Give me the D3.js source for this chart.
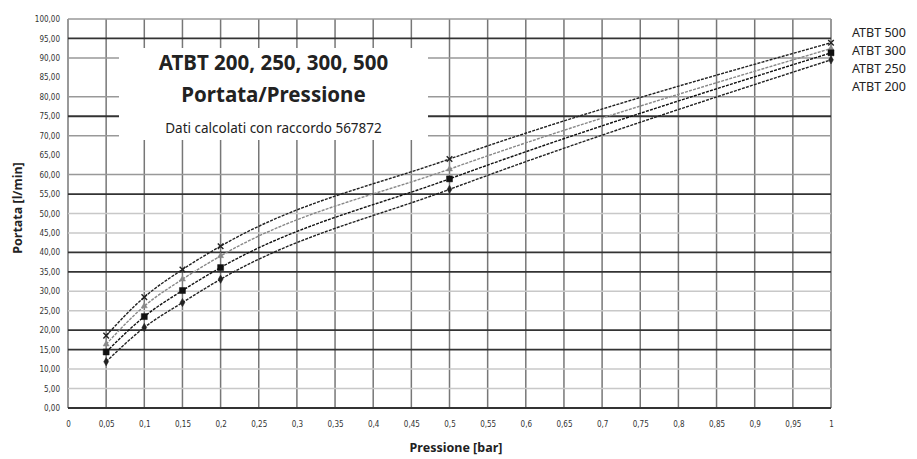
<!DOCTYPE html>
<html><head><meta charset="utf-8">
<script src="https://cdn.jsdelivr.net/npm/d3@7"></script>
<style>
html,body{margin:0;padding:0;background:#fff;}
svg{display:block;font-family:"Noto Sans","Open Sans",sans-serif;}
</style></head>
<body><svg id="c" width="917" height="459"></svg>
<script>
const pressure = [0.05, 0.1, 0.15, 0.2, 0.5, 1.0];
const seriesNames = ["ATBT 500", "ATBT 300", "ATBT 250", "ATBT 200"];
const atbt500 = [18.6, 28.5, 35.6, 41.6, 64.0, 93.9];
const atbt300 = [16.4, 26.2, 33.1, 39.1, 61.4, 92.4];
const atbt250 = [14.4, 23.5, 30.2, 36.1, 58.9, 91.3];
const atbt200 = [11.9, 20.7, 27.1, 33.1, 56.2, 89.5];
const xTicks = d3.range(0, 21).map(i => i * 0.05);
const yTicks = d3.range(0, 21).map(i => i * 5);
const titleLines = ["ATBT 200, 250, 300, 500", "Portata/Pressione"];
const subtitle = "Dati calcolati con raccordo 567872";
const xTitle = "Pressione [bar]";
const yTitle = "Portata [l/min]";

const svg = d3.select("#c");
const L = 68, R = 831, T = 19, B = 408;
const x = d3.scaleLinear().domain([0, 1]).range([L, R]);
const y = d3.scaleLinear().domain([0, 100]).range([B, T]);

const dark = new Set([95, 75, 55, 40, 35, 20, 15, 0]);
const light = new Set([50, 45, 30, 25, 10, 5]);
const none = new Set([85, 65]);

// vertical gridlines
const gx = svg.append("g");
gx.selectAll("line").data(xTicks).join("line")
  .attr("x1", d => x(d)).attr("x2", d => x(d))
  .attr("y1", T).attr("y2", B)
  .attr("stroke", "#777").attr("stroke-width", 1.5);

// horizontal gridlines
const gy = svg.append("g");
gy.selectAll("line").data(yTicks.filter(v => !none.has(Math.round(v)))).join("line")
  .attr("x1", L).attr("x2", R)
  .attr("y1", d => y(d)).attr("y2", d => y(d))
  .attr("stroke", d => dark.has(Math.round(d)) ? "#333" : light.has(Math.round(d)) ? "#c8c8c8" : "#999")
  .attr("stroke-width", d => dark.has(Math.round(d)) ? 1.8 : 1.5);

// title box
const bx = 119, bw = 309, by = 48, bh = 92;
svg.append("rect").attr("x", bx).attr("y", by).attr("width", bw).attr("height", bh).attr("fill", "#fff");
const cx = bx + bw / 2;
svg.append("text").attr("x", cx).attr("y", 70).attr("text-anchor", "middle")
  .attr("font-size", 20.5).attr("font-weight", "bold").attr("fill", "#222").text(titleLines[0]);
svg.append("text").attr("x", cx).attr("y", 102).attr("text-anchor", "middle")
  .attr("font-size", 20.5).attr("font-weight", "bold").attr("fill", "#222").text(titleLines[1]);
svg.append("text").attr("x", cx).attr("y", 133).attr("text-anchor", "middle")
  .attr("font-size", 13.5).attr("fill", "#222").text(subtitle);

// axes labels
const fmtY = d => d3.format(".2f")(d).replace(".", ",");
const fmtX = d => String(+d.toFixed(2)).replace(".", ",");
const yAxis = d3.axisLeft(y).tickValues(yTicks).tickSize(0).tickPadding(8).tickFormat(fmtY);
const ya = svg.append("g").attr("transform", `translate(${L},0)`).call(yAxis);
ya.select(".domain").remove();
ya.selectAll("text").attr("font-size", 8).attr("fill", "#333").attr("font-family", "DejaVu Sans Condensed, sans-serif");
const xAxis = d3.axisBottom(x).tickValues(xTicks).tickSize(0).tickPadding(13).tickFormat(fmtX);
const xa = svg.append("g").attr("transform", `translate(0,${B})`).call(xAxis);
xa.select(".domain").remove();
xa.selectAll("text").attr("font-size", 8).attr("fill", "#333").attr("font-family", "DejaVu Sans Condensed, sans-serif");

svg.append("text").attr("x", 456).attr("y", 452).attr("text-anchor", "middle")
  .attr("font-size", 12.5).attr("font-weight", "bold").attr("fill", "#222").text(xTitle);
svg.append("text").attr("transform", "translate(22,208) rotate(-90)").attr("text-anchor", "middle")
  .attr("font-size", 12.5).attr("font-weight", "bold").attr("fill", "#222").text(yTitle);

// series
const series = [
  {name: seriesNames[0], vals: atbt500, color: "#222", marker: "cross"},
  {name: seriesNames[1], vals: atbt300, color: "#888", marker: "triangle"},
  {name: seriesNames[2], vals: atbt250, color: "#111", marker: "square"},
  {name: seriesNames[3], vals: atbt200, color: "#222", marker: "diamond"}
];
const line = d3.line().x(d => x(d[0])).y(d => y(d[1])).curve(d3.curveMonotoneX);
const symMap = {cross: d3.symbolTimes, triangle: d3.symbolTriangle, square: d3.symbolSquare, diamond: d3.symbolDiamond};
const sizeMap = {cross: 22, triangle: 16, square: 36, diamond: 20};
series.forEach(s => {
  const pts = pressure.map((p, i) => [p, s.vals[i]]);
  svg.append("path").datum(pts).attr("d", line)
    .attr("fill", "none").attr("stroke", s.color).attr("stroke-width", 1.4)
    .attr("stroke-dasharray", "3,1.2");
  svg.append("g").selectAll("path").data(pts).join("path")
    .attr("transform", d => `translate(${x(d[0])},${y(d[1])})`)
    .attr("d", d3.symbol().type(symMap[s.marker]).size(sizeMap[s.marker]))
    .attr("fill", s.marker === "cross" ? "none" : s.color)
    .attr("stroke", s.color).attr("stroke-width", s.marker === "cross" ? 1.4 : 0.5);
});

// legend
svg.append("g").selectAll("text").data(seriesNames).join("text")
  .attr("x", 852).attr("y", (d, i) => 37 + i * 18)
  .attr("font-size", 12.5).attr("fill", "#222").text(d => d);
</script></body></html>
